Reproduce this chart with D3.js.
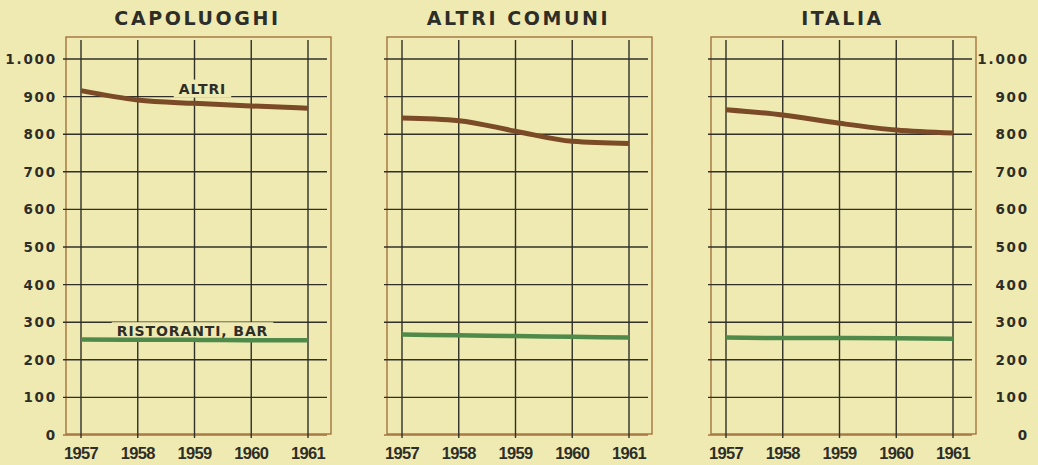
<!DOCTYPE html>
<html><head><meta charset="utf-8">
<script src="https://cdn.jsdelivr.net/npm/d3@7"></script>
<style>
html,body{margin:0;padding:0;background:#efeab2;}
svg{display:block;}
</style></head><body>
<svg id="c" width="1038" height="465"></svg>
<script>
const years = [1957, 1958, 1959, 1960, 1961];
const panelTitles = ["CAPOLUOGHI", "ALTRI COMUNI", "ITALIA"];
const yTicks = [0, 100, 200, 300, 400, 500, 600, 700, 800, 900, 1000];
const yTickLabels = ["0", "100", "200", "300", "400", "500", "600", "700", "800", "900", "1.000"];
const altriCapoluoghi = [916, 891, 882, 875, 869];
const altriComuni = [843, 836, 808, 781, 775];
const altriItalia = [865, 851, 829, 811, 803];
const barCapoluoghi = [254, 253, 253, 252, 252];
const barComuni = [267, 265, 263, 261, 259];
const barItalia = [259, 258, 258, 257, 256];
const seriesLabels = ["ALTRI", "RISTORANTI, BAR"];

const altri = [altriCapoluoghi, altriComuni, altriItalia];
const bars = [barCapoluoghi, barComuni, barItalia];

const svg = d3.select("#c");
const bg = "#efeab2";
const gridCol = "#303028";
const frameCol = "#a4723f";
const brown = "#7b4a26";
const green = "#4f8a4a";
const textCol = "#2e2e28";

const frameLefts = [66, 387, 711];
const frameW = 265;
const y = d3.scaleLinear().domain([0, 1000]).range([435, 59]);
const fontF = "'DejaVu Sans', sans-serif";

frameLefts.forEach((fl, i) => {
  const g = svg.append("g");
  const x = d3.scaleLinear().domain([1957, 1961]).range([fl + 15, fl + 242]);
  g.append("rect").attr("x", fl).attr("y", 37).attr("width", frameW).attr("height", y(0) - 37 - 1)
    .attr("fill", "none").attr("stroke", frameCol).attr("stroke-width", 1.4);
  g.selectAll(".h").data(yTicks).enter().append("line")
    .attr("x1", fl - 3).attr("x2", fl + frameW - 4)
    .attr("y1", d => y(d)).attr("y2", d => y(d))
    .attr("stroke", d => d === 0 ? frameCol : gridCol).attr("stroke-width", 1.4);
  g.selectAll(".v").data(years).enter().append("line")
    .attr("x1", d => x(d)).attr("x2", d => x(d))
    .attr("y1", 40).attr("y2", 438)
    .attr("stroke", gridCol).attr("stroke-width", 1.4);
  g.append("text").attr("x", fl + frameW / 2 - 1).attr("y", 25)
    .attr("text-anchor", "middle").attr("font-family", fontF).attr("font-weight", "bold")
    .attr("font-size", 19).attr("letter-spacing", 2.6).attr("fill", textCol).text(panelTitles[i]);
  g.selectAll(".xl").data(years).enter().append("text")
    .attr("x", d => x(d)).attr("y", 459).attr("text-anchor", "middle")
    .attr("font-family", "'Liberation Sans', sans-serif").attr("font-weight", "bold")
    .attr("font-size", 16.5).attr("letter-spacing", -0.7).attr("fill", textCol).text(d => d);

  const line = d3.line().x((d, k) => x(years[k])).y(d => y(d)).curve(d3.curveMonotoneX);

  if (i === 0) {
    const lbls = [[seriesLabels[0], x(1959) + 8, y(900) - 3], [seriesLabels[1], x(1959) - 2, y(300) + 14]];
    lbls.forEach(([t, lx, ly]) => {
      const tx = g.append("text").attr("x", lx).attr("y", ly).attr("text-anchor", "middle")
        .attr("font-family", fontF).attr("font-weight", "bold").attr("font-size", 14)
        .attr("letter-spacing", 0.9).attr("fill", textCol).text(t);
      const bb = tx.node().getBBox();
      g.insert("rect", "text").attr("x", bb.x - 5).attr("y", bb.y - 1).attr("width", bb.width + 10)
        .attr("height", bb.height + 2).attr("fill", bg);
    });
  }

  g.append("path").datum(altri[i]).attr("d", line).attr("fill", "none")
    .attr("stroke", brown).attr("stroke-width", 5).attr("stroke-linecap", "butt");
  g.append("path").datum(bars[i]).attr("d", line).attr("fill", "none")
    .attr("stroke", green).attr("stroke-width", 4.5).attr("stroke-linecap", "butt");
});

function yLabels(xpos) {
  svg.selectAll(null).data(yTicks).enter().append("text")
    .attr("x", xpos).attr("y", d => y(d) + 5).attr("text-anchor", "end")
    .attr("font-family", fontF).attr("font-weight", "bold").attr("font-size", 13.5)
    .attr("letter-spacing", 1.8).attr("fill", textCol)
    .text((d, k) => yTickLabels[k]);
}
yLabels(57);
yLabels(1029);
</script>
</body></html>
